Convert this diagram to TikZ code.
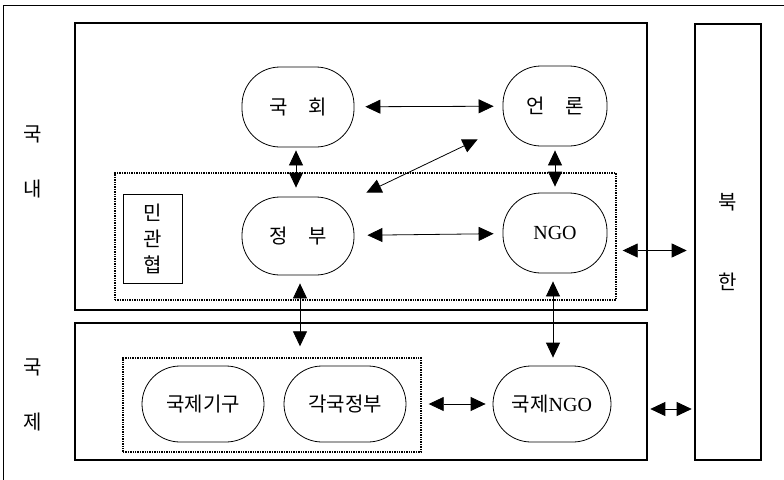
\documentclass[tikz,border=0pt]{standalone}
\usepackage{fontspec}
\setmainfont{Liberation Serif}
\newfontfamily\kr{Noto Sans CJK KR}
\usepackage{tikz}
\usetikzlibrary{arrows.meta,positioning,calc}

\begin{document}
\begin{tikzpicture}[x=1pt, y=-1pt,
  actor/.style={draw, line width=0.8pt, rectangle, rounded corners=38pt,
    minimum width=112pt, minimum height=80pt, align=center,
    font=\kr\fontsize{20}{22}\selectfont},
  region/.style={draw, line width=2.6pt, rectangle},
  group/.style={draw, densely dotted, line width=1.4pt, rectangle},
  sidelabel/.style={align=center},
  biarrow/.style={{Triangle[length=15pt,width=14pt]}-{Triangle[length=15pt,width=14pt]}, line width=0.8pt}
]
\useasboundingbox (0,0) rectangle (784,479);

% ----------------------
% Frame
% ----------------------
\draw[line width=0.8pt] (3,490) -- (3,5) -- (790,5);

% ----------------------
% Regions
% ----------------------
\node[region, minimum width=572pt, minimum height=287pt] (dom) at (361,166.5) {};
\node[region, minimum width=572pt, minimum height=137pt] (intl) at (361,391.5) {};
\node[region, minimum width=66pt, minimum height=436pt,
  font=\kr\fontsize{20}{80}\selectfont, align=center] (nk) at (728,242) {북\\한};

% ----------------------
% Side labels
% ----------------------
\node[sidelabel, font=\kr\fontsize{20}{55}\selectfont] (domlbl) at (33,162) {국\\내};
\node[sidelabel, font=\kr\fontsize{20}{55}\selectfont] (intllbl) at (33,395) {국\\제};

% ----------------------
% Dotted groups
% ----------------------
\node[group, minimum width=501pt, minimum height=127pt] (coop) at (365.5,236.5) {};
\node[draw, line width=0.8pt, minimum width=59pt, minimum height=89pt,
  font=\kr\fontsize{20}{26}\selectfont, align=center] (coopbox) at (152.5,238.5) {민\\관\\협};
\node[group, minimum width=298pt, minimum height=94pt] (intlgrp) at (272,405) {};

% ----------------------
% Actors
% ----------------------
\node[actor] (assembly) at (298,107) {국\hspace{20pt}회};
\node[actor, minimum width=104pt] (press) at (555,106) {언\hspace{20pt}론};
\node[actor, minimum height=78pt] (gov) at (298,236) {정\hspace{20pt}부};
\node[actor, minimum width=104pt, font=\fontsize{20}{22}\selectfont] (ngo) at (555,233) {NGO};
\node[actor, minimum width=122pt, minimum height=76pt] (io) at (203,404) {국제기구};
\node[actor, minimum width=122pt, minimum height=76pt] (fgov) at (345,404) {각국정부};
\node[actor, minimum width=118pt, minimum height=76pt] (ingo) at (552,404) {국제{\fontspec{Liberation Serif}NGO}};

% ----------------------
% Links
% ----------------------
\draw[biarrow, shorten <=11pt, shorten >=9pt] (assembly) -- (press);
\draw[biarrow, shorten <=3pt, shorten >=9pt] ([xshift=-2pt]assembly.south) -- ([xshift=-2pt]gov.north);
\draw[biarrow] ([shift={(12,-4)}]gov.north east) -- ([shift={(-25,-7)}]press.south west);
\draw[biarrow, shorten <=13pt, shorten >=9pt] (gov) -- (ngo);
\draw[biarrow, shorten <=4pt, shorten >=6pt] (press.south) -- (ngo.north);
\draw[biarrow, shorten <=6pt, shorten >=7pt] ([yshift=-14pt]coop.east) -- ([yshift=-14pt]coop.east -| nk.west);
\draw[biarrow, shorten <=8pt, shorten >=11pt] ([xshift=2pt]gov.south) -- ([xshift=2pt]gov.south |- intlgrp.north);
\draw[biarrow, shorten <=8pt, shorten >=8pt] ([xshift=-2pt]ngo.south) -- ([xshift=1pt]ingo.north);
\draw[biarrow, shorten <=7pt, shorten >=7pt] (intlgrp.east |- ingo) -- (ingo.west);
\draw[biarrow, shorten <=2pt, shorten >=2pt] ($(intl.east |- ingo)+(0,5)$) -- ($(nk.west |- ingo)+(0,5)$);

\end{tikzpicture}
\end{document}
